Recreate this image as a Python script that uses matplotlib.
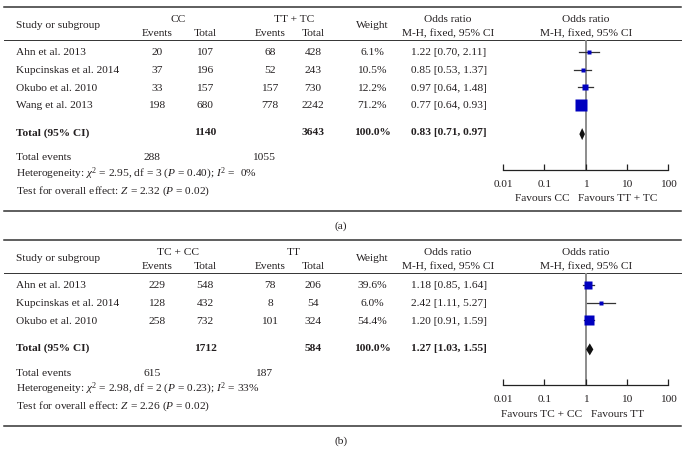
import matplotlib
matplotlib.use("Agg")
import matplotlib.pyplot as plt
import numpy as np

plt.rcParams['font.family'] = ['Liberation Serif', 'DejaVu Serif']
plt.rcParams['mathtext.fontset'] = 'custom'
plt.rcParams['mathtext.rm'] = 'Liberation Serif'
plt.rcParams['mathtext.it'] = 'Liberation Serif:italic'
plt.rcParams['mathtext.bf'] = 'Liberation Serif:bold'

# ---------------- data: panel (a) ----------------
studies_a = ["Ahn et al. 2013", "Kupcinskas et al. 2014", "Okubo et al. 2010", "Wang et al. 2013"]
group1_a = "CC"
group2_a = "TT + TC"
events1_a = [20, 37, 33, 198]
total1_a = [107, 196, 157, 680]
events2_a = [68, 52, 157, 778]
total2_a = [428, 243, 730, 2242]
weight_a = [6.1, 10.5, 12.2, 71.2]
or_a = [1.22, 0.85, 0.97, 0.77]
lo_a = [0.70, 0.53, 0.64, 0.64]
hi_a = [2.11, 1.37, 1.48, 0.93]
sum_total_a = [1140, 3643]
sum_events_a = [288, 1055]
pooled_a = [0.83, 0.71, 0.97]
het_a = r"Heterogeneity: $\chi^2$ = 2.95, df = 3 ($P$ = 0.40); $I^2$ =  0%"
test_a = r"Test for overall effect: $Z$ = 2.32 ($P$ = 0.02)"
fav_a = ["Favours CC", "Favours TT + TC"]

# ---------------- data: panel (b) ----------------
studies_b = ["Ahn et al. 2013", "Kupcinskas et al. 2014", "Okubo et al. 2010"]
group1_b = "TC + CC"
group2_b = "TT"
events1_b = [229, 128, 258]
total1_b = [548, 432, 732]
events2_b = [78, 8, 101]
total2_b = [206, 54, 324]
weight_b = [39.6, 6.0, 54.4]
or_b = [1.18, 2.42, 1.20]
lo_b = [0.85, 1.11, 0.91]
hi_b = [1.64, 5.27, 1.59]
sum_total_b = [1712, 584]
sum_events_b = [615, 187]
pooled_b = [1.27, 1.03, 1.55]
het_b = r"Heterogeneity: $\chi^2$ = 2.98, df = 2 ($P$ = 0.23); $I^2$ = 33%"
test_b = r"Test for overall effect: $Z$ = 2.26 ($P$ = 0.02)"
fav_b = ["Favours TC + CC", "Favours TT"]

tick_vals = [0.01, 0.1, 1, 10, 100]
tick_labels = ["0.01", "0.1", "1", "10", "100"]

W, H = 685, 451
TXT = '#231F20'
BLUE = '#0000BF'
FS = 8.2

fig = plt.figure(figsize=(W / 100, H / 100), dpi=100)
bg = fig.add_axes([0, 0, 1, 1])
bg.set_xlim(0, W)
bg.set_ylim(H, 0)
bg.axis('off')


def t(x, y, s, ha='center', bold=False, size=FS):
    # y is the visual centre of digits/capitals; place on baseline
    bg.text(x, y + 3.2, s, ha=ha, va='baseline', fontsize=size, color=TXT,
            fontweight='bold' if bold else 'normal')


def panel(top, studies, g1, g2, e1, t1, e2, t2, w, orv, lo, hi,
          sum_tot, sum_ev, pooled, het, test, fav, label, sq_k):
    bg.plot([4, 681], [top, top], color='#333333', lw=1.1)
    hdr = top + 33
    bg.plot([4, 681], [hdr, hdr], color='#333333', lw=0.7)
    t(16, top + 18, "Study or subgroup", ha='left')
    t(178, top + 12, g1)
    t(294, top + 12, g2)
    t(157, top + 26, "Events")
    t(205, top + 26, "Total")
    t(270, top + 26, "Events")
    t(313, top + 26, "Total")
    t(372, top + 18, "Weight")
    t(448, top + 12, "Odds ratio")
    t(448, top + 26, "M-H, fixed, 95% CI")
    t(586, top + 12, "Odds ratio")
    t(586, top + 26, "M-H, fixed, 95% CI")

    rows = [top + 45 + 17.7 * i for i in range(len(studies))]
    for i, y in enumerate(rows):
        t(16, y, studies[i], ha='left')
        t(157, y, str(e1[i]))
        t(205, y, str(t1[i]))
        t(270, y, str(e2[i]))
        t(313, y, str(t2[i]))
        t(372, y, f"{w[i]:.1f}%")
        t(449, y, f"{orv[i]:.2f} [{lo[i]:.2f}, {hi[i]:.2f}]")

    ytot = rows[-1] + 27
    t(16, ytot, "Total (95% CI)", ha='left', bold=True)
    t(205, ytot, str(sum_tot[0]), bold=True)
    t(313, ytot, str(sum_tot[1]), bold=True)
    t(372, ytot, "100.0%", bold=True)
    t(449, ytot, f"{pooled[0]:.2f} [{pooled[1]:.2f}, {pooled[2]:.2f}]", bold=True)

    t(16, ytot + 25, "Total events", ha='left')
    t(152, ytot + 25, str(sum_ev[0]))
    t(264, ytot + 25, str(sum_ev[1]))
    t(16, ytot + 41, het, ha='left')
    t(16, ytot + 58, test, ha='left')

    bottom = ytot + 79
    bg.plot([4, 681], [bottom, bottom], color='#333333', lw=1.1)
    t(341, bottom + 14, label)

    axis_y = ytot + 38
    ax = fig.add_axes([503 / W, 1 - axis_y / H, 165 / W, (axis_y - hdr) / H])
    ax.patch.set_alpha(0)
    ax.set_xscale('log')
    ax.set_xlim(0.01, 100)
    ax.set_ylim(axis_y, hdr)
    for s in ('top', 'left', 'right'):
        ax.spines[s].set_visible(False)
    ax.spines['bottom'].set_color('#222222')
    ax.spines['bottom'].set_linewidth(0.9)
    ax.set_yticks([])
    ax.set_xticks(tick_vals)
    ax.set_xticklabels(tick_labels)
    ax.minorticks_off()
    ax.tick_params(axis='x', direction='in', length=4, width=0.9,
                   labelsize=FS, pad=7, colors='#222222', labelcolor=TXT)
    ax.axvline(1, color='#8c8c8c', lw=1.4, zorder=1)
    for i, y in enumerate(rows):
        ax.plot([lo[i], hi[i]], [y, y], color='#333333', lw=0.9, zorder=2)
        side_px = sq_k * np.sqrt(w[i])
        ax.plot(orv[i], y, marker='s', ms=side_px * 0.72, color=BLUE,
                mec='none', zorder=3, linestyle='none')
    est, plo, phi = pooled
    ax.fill([plo, est, phi, est], [ytot + 2, ytot - 4, ytot + 2, ytot + 8],
            color='#111111', lw=0, zorder=3)
    t(542, axis_y + 28, fav[0])
    t(618, axis_y + 28, fav[1])


panel(7, studies_a, group1_a, group2_a, events1_a, total1_a, events2_a, total2_a,
      weight_a, or_a, lo_a, hi_a, sum_total_a, sum_events_a, pooled_a,
      het_a, test_a, fav_a, "(a)", 1.5)
panel(240, studies_b, group1_b, group2_b, events1_b, total1_b, events2_b, total2_b,
      weight_b, or_b, lo_b, hi_b, sum_total_b, sum_events_b, pooled_b,
      het_b, test_b, fav_b, "(b)", 1.35)

fig.savefig("out.png", dpi=100)
